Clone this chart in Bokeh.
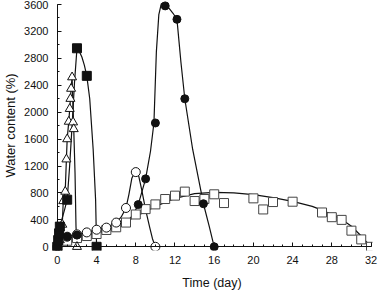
from bokeh.plotting import figure
from bokeh.models import Range1d, FixedTicker, LinearAxis
from bokeh.embed import file_html
from bokeh.resources import INLINE

# ---- tick labels ----
x_ticks = [0, 4, 8, 12, 16, 20, 24, 28, 32]
x_minor = list(range(0, 33))
y_ticks = [0, 400, 800, 1200, 1600, 2000, 2400, 2800, 3200, 3600]
y_minor = list(range(0, 3601, 200))

# ---- filled squares ----
fsq_day = [0, 0.08, 0.17, 0.25, 1, 2, 3, 4]
fsq_wc = [0, 100, 200, 300, 700, 2950, 2540, 0]
fsq_line_day = [0, 0.25, 0.5, 0.75, 1.0, 1.25, 1.5, 1.75, 2.0, 2.25, 2.5, 2.75, 3.0, 3.3, 3.65, 3.9, 4.0]
fsq_line_wc = [0, 300, 430, 560, 700, 1200, 1800, 2450, 2950, 2900, 2820, 2700, 2540, 2200, 1450, 700, 0]

# ---- open triangles ----
tri_day = [0, 0.25, 0.5, 0.6, 0.8, 0.92, 1.0, 1.16, 1.26, 1.33, 1.4, 1.5, 1.6, 1.67, 2.0]
tri_wc = [0, 100, 330, 680, 820, 1300, 1600, 1860, 2050, 2200, 2350, 2520, 1850, 1750, 0]
tri_line_day = [0, 0.25, 0.5, 0.6, 0.8, 0.92, 1.0, 1.16, 1.26, 1.33, 1.4, 1.5, 1.58, 1.67, 1.8, 1.9, 2.0]
tri_line_wc = [0, 100, 330, 680, 820, 1300, 1600, 1860, 2050, 2200, 2350, 2520, 2150, 1750, 1100, 300, 0]

# ---- filled circles ----
fci_day = [0, 1, 2, 8.25, 9, 10, 11, 12.2, 13, 14.9, 16]
fci_wc = [0, 150, 175, 627, 1010, 1840, 3580, 3380, 2200, 640, 0]
fci_line_day = [0, 0.5, 1, 2, 3, 4, 5, 6, 7, 7.7, 8.25, 9, 9.5, 9.85, 10.1, 10.35, 10.6, 10.9,
                11.3, 11.8, 12.2, 12.6, 13, 13.8, 14.9, 15.5, 16]
fci_line_wc = [0, 110, 150, 175, 190, 205, 230, 270, 350, 470, 627, 1010, 1420, 1840, 2900, 3450,
               3610, 3620, 3560, 3470, 3380, 2750, 2200, 1450, 640, 300, 0]

# ---- open circles ----
oci_day = [0, 1, 2, 3, 4, 5, 6, 7, 8, 10]
oci_wc = [0, 150, 185, 214, 254, 285, 360, 577, 1110, 0]
oci_line_day = [0, 0.5, 1, 2, 3, 4, 5, 6, 6.5, 7, 7.3, 7.6, 7.85, 8.0, 8.15, 8.3, 8.6, 9.0, 9.4, 9.7, 10]
oci_line_wc = [0, 100, 150, 185, 214, 250, 285, 360, 440, 577, 780, 1020, 1100, 1115, 1100, 1050, 850, 553, 300, 120, 0]

# ---- open squares ----
osq_day = [0, 1, 2, 3, 4, 5, 6, 7, 8, 9, 10, 11, 12, 13, 14, 15, 16, 17,
           20, 21, 22, 24, 27, 28, 29, 30, 31, 32]
osq_wc = [0, 90, 130, 160, 190, 250, 290, 360, 480, 560, 630, 710, 760, 820, 680, 710, 780, 650,
          720, 555, 665, 670, 510, 440, 400, 240, 110, 0]
osq_line_day = [0, 0.5, 1, 2, 4, 6, 8, 10, 12, 14, 16, 18, 20, 22, 24, 26, 27, 28, 29, 30, 31, 32]
osq_line_wc = [0, 70, 110, 150, 200, 300, 450, 600, 720, 790, 810, 800, 775, 730, 675, 600, 545, 480, 410, 305, 160, 0]

FONT = "Liberation Sans"
BLACK = "#111111"

p = figure(width=378, height=292, output_backend="svg", toolbar_location=None,
           x_range=Range1d(-0.6, 32.15), y_range=Range1d(-55, 3660),
           min_border_left=4, min_border_right=6, min_border_top=0, min_border_bottom=0)
p.outline_line_color = None
p.grid.visible = False
p.background_fill_color = "white"

# label-only axes in the side panels
for ax in (p.xaxis[0], p.yaxis[0]):
    ax.axis_line_color = None
    ax.major_tick_line_color = None
    ax.minor_tick_line_color = None
    ax.major_tick_in = 0
    ax.major_tick_out = 0
    ax.minor_tick_in = 0
    ax.minor_tick_out = 0
    ax.major_label_text_font = FONT
    ax.major_label_text_font_size = "11px"
    ax.major_label_text_color = BLACK
    ax.axis_label_text_font = FONT
    ax.axis_label_text_font_style = "normal"
    ax.axis_label_text_color = BLACK

p.xaxis[0].axis_label_text_font_size = "12.5px"
p.yaxis[0].axis_label_text_font_size = "13px"
p.xaxis[0].ticker = FixedTicker(ticks=x_ticks, minor_ticks=[])
p.yaxis[0].ticker = FixedTicker(ticks=y_ticks, minor_ticks=[])
p.xaxis[0].axis_label = "Time (day)"
p.yaxis[0].axis_label = "Water content (%)"
p.xaxis[0].major_label_standoff = 5
p.yaxis[0].major_label_standoff = 3
p.xaxis[0].axis_label_standoff = 9
p.yaxis[0].axis_label_standoff = 3

# line-and-tick axes crossing at the origin (ticks drawn toward the plot area)
def line_axis(ticks, minor, bounds):
    a = LinearAxis(ticker=FixedTicker(ticks=ticks, minor_ticks=minor), fixed_location=0,
                   bounds=bounds, axis_label=None)
    a.axis_line_color = BLACK
    a.axis_line_width = 1
    a.major_tick_in = 0
    a.major_tick_out = 4
    a.minor_tick_in = 0
    a.minor_tick_out = 2
    a.major_tick_line_color = BLACK
    a.minor_tick_line_color = BLACK
    a.major_label_text_font_size = "0px"
    a.major_label_text_alpha = 0
    a.major_label_standoff = 0
    return a

p.add_layout(line_axis(x_ticks, x_minor, (0, 32)), "above")
p.add_layout(line_axis(y_ticks, y_minor, (0, 3600)), "right")

LW = 1.2
p.line(osq_line_day, osq_line_wc, line_color=BLACK, line_width=LW)
p.line(oci_line_day, oci_line_wc, line_color=BLACK, line_width=LW)
p.line(fci_line_day, fci_line_wc, line_color=BLACK, line_width=LW)
p.line(tri_line_day, tri_line_wc, line_color=BLACK, line_width=LW)
p.line(fsq_line_day, fsq_line_wc, line_color=BLACK, line_width=LW)

p.scatter(osq_day, osq_wc, marker="square", size=9, fill_color="white", line_color="#444444", line_width=1)
p.scatter(oci_day, oci_wc, marker="circle", size=9, fill_color="white", line_color=BLACK, line_width=1)
p.scatter(tri_day, tri_wc, marker="triangle", size=9, fill_color="white", line_color=BLACK, line_width=1)
p.scatter(fci_day, fci_wc, marker="circle", size=8, fill_color=BLACK, line_color=BLACK)
p.scatter(fsq_day, fsq_wc, marker="square", size=9, fill_color=BLACK, line_color=BLACK)

open("out.html", "w").write(file_html(p, INLINE))
